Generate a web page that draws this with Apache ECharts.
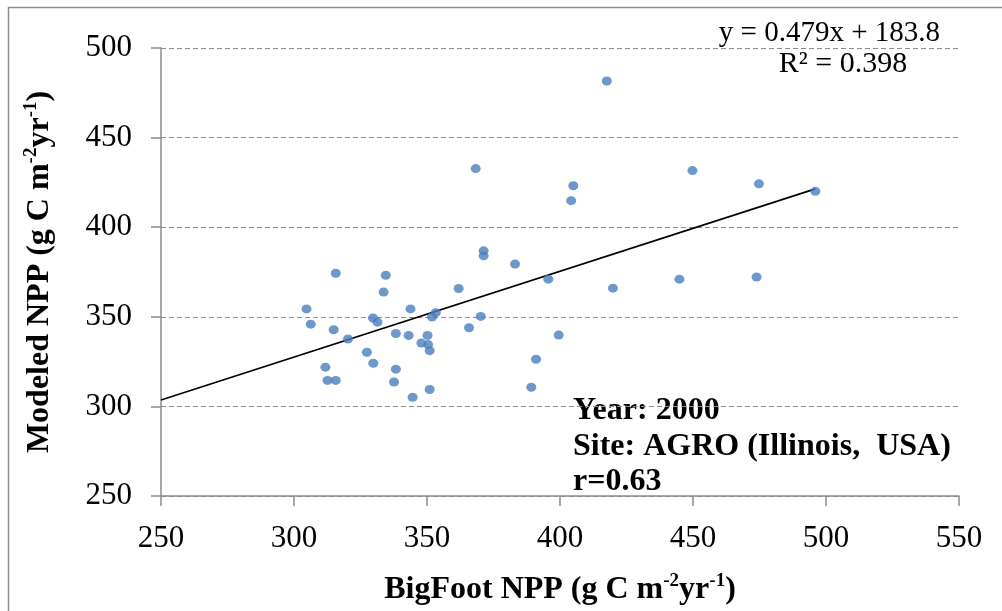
<!DOCTYPE html>
<html>
<head>
<meta charset="utf-8">
<script src="https://cdn.jsdelivr.net/npm/echarts@6/dist/echarts.min.js"></script>
<style>html,body{margin:0;padding:0;background:#fff}#c{width:1002px;height:611px}</style>
</head>
<body>
<div id="c"></div>
<script>
// BigFoot NPP (x) vs Modeled NPP (y), g C m-2 yr-1
const bigfootNPP = [417.6,368.3,449.8,405.0,404.2,474.8,496.0,371.3,371.3,383.1,395.6,444.9,473.9,419.9,370.2,399.5,391.0,389.2,315.7,334.5,333.7,361.9,304.7,343.8,329.7,331.4,353.3,351.9,306.3,314.9,365.8,320.3,338.3,343.1,350.2,347.9,350.4,351.0,327.4,329.8,311.8,338.3,312.6,315.7,337.6,351.0,344.6];
const modeledNPP = [481.6,432.7,431.6,423.1,414.8,424.2,420.0,386.8,384.0,379.4,371.0,371.0,372.2,366.0,350.2,339.8,326.3,310.7,374.3,373.2,363.8,365.8,354.4,354.4,349.3,347.0,352.3,349.9,345.9,342.8,343.9,337.6,340.7,339.6,339.6,335.4,334.5,331.1,330.2,324.1,321.9,320.8,314.5,314.5,313.6,309.4,305.1];
const trendSlope = 0.479;
const trendIntercept = 183.8;
const trendXRange = [250, 496];
const xTicks = [250, 300, 350, 400, 450, 500, 550];
const yTicks = [250, 300, 350, 400, 450, 500];
const eqText = 'y = 0.479x + 183.8';
const r2Text = 'R² = 0.398';
const noteLines = ['Year: 2000', 'Site: AGRO (Illinois,  USA)', 'r=0.63'];

const points = bigfootNPP.map((x, i) => [x, modeledNPP[i]]);
const trend = trendXRange.map(x => [x, trendSlope * x + trendIntercept]);

const SERIF = '"Liberation Serif", "Times New Roman", serif';
const richName = {
  n: {fontFamily: SERIF, fontSize: 32, fontWeight: 'bold', color: '#000', lineHeight: 36},
  s: {fontFamily: SERIF, fontSize: 19, fontWeight: 'bold', color: '#000', verticalAlign: 'top', lineHeight: 19}
};

const chart = echarts.init(document.getElementById('c'), null, {renderer: 'canvas'});
chart.setOption({
  animation: false,
  backgroundColor: '#fff',
  grid: {left: 161, right: 43, top: 48, bottom: 110, containLabel: false},
  xAxis: {
    type: 'value', min: xTicks[0], max: xTicks[xTicks.length - 1], interval: 50,
    axisLine: {show: true, onZero: false, lineStyle: {color: '#8c8c8c', width: 1.5}},
    axisTick: {show: true, length: 10, lineStyle: {color: '#8c8c8c', width: 1.5}},
    splitLine: {show: false},
    axisLabel: {fontFamily: SERIF, fontSize: 31, color: '#000', margin: 27},
    name: '{n|BigFoot NPP (g C m}{s|-2}{n|yr}{s|-1}{n|)}',
    nameLocation: 'middle', nameGap: 76,
    nameTextStyle: {rich: richName}
  },
  yAxis: {
    type: 'value', min: yTicks[0], max: yTicks[yTicks.length - 1], interval: 50,
    axisLine: {show: true, onZero: false, lineStyle: {color: '#8c8c8c', width: 1.5}},
    axisTick: {show: true, length: 10, lineStyle: {color: '#8c8c8c', width: 1.5}},
    splitLine: {show: true, lineStyle: {color: '#8c8c8c', type: [5, 3], width: 1.2}},
    axisLabel: {fontFamily: SERIF, fontSize: 31, color: '#000', margin: 29},
    name: '{n|Modeled NPP (g C m}{s|-2}{n|yr}{s|-1}{n|)}',
    nameLocation: 'middle', nameGap: 103, nameRotate: 90,
    nameTextStyle: {rich: richName}
  },
  series: [
    {
      type: 'scatter', data: points, symbol: 'circle', symbolSize: [10, 9],
      itemStyle: {color: '#4a7ebb'}, z: 3
    },
    {
      type: 'line', data: trend, showSymbol: false, symbol: 'none',
      lineStyle: {color: '#000', width: 1.6}, z: 2
    }
  ],
  graphic: [
    {type: 'rect', shape: {x: 8.5, y: 7.5, width: 1100, height: 700}, style: {fill: 'none', stroke: '#8c8c8c', lineWidth: 1.5}, silent: true},
    {type: 'text', x: 940, y: 33, style: {text: eqText, font: '29px ' + SERIF, fill: '#000', textAlign: 'right', textVerticalAlign: 'middle'}},
    {type: 'text', x: 843, y: 64, style: {text: r2Text, font: '30px ' + SERIF, fill: '#000', textAlign: 'center', textVerticalAlign: 'middle'}},
    {type: 'text', x: 573, y: 411, style: {text: noteLines[0], font: 'bold 32px ' + SERIF, fill: '#000', textAlign: 'left', textVerticalAlign: 'middle'}},
    {type: 'text', x: 573, y: 447, style: {text: noteLines[1], font: 'bold 32px ' + SERIF, fill: '#000', textAlign: 'left', textVerticalAlign: 'middle'}},
    {type: 'text', x: 573, y: 482, style: {text: noteLines[2], font: 'bold 32px ' + SERIF, fill: '#000', textAlign: 'left', textVerticalAlign: 'middle'}}
  ]
});
</script>
</body>
</html>
